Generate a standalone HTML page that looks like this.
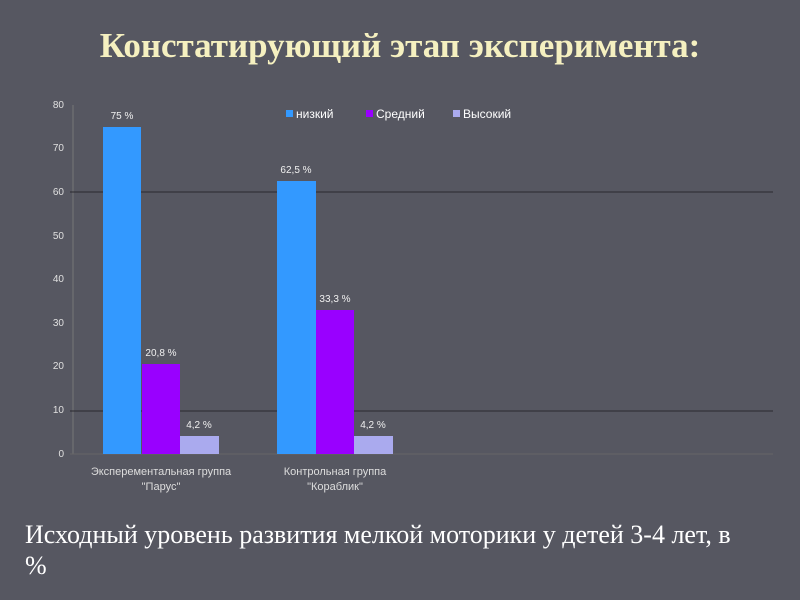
<!DOCTYPE html>
<html><head><meta charset="utf-8"><style>
body{margin:0;width:800px;height:600px;background:#565761;overflow:hidden;position:relative;font-family:"Liberation Sans",sans-serif}
.t{position:absolute;left:0;width:800px;top:26px;text-align:center;font:bold 35px "Liberation Serif",serif;color:#f5f0c0;white-space:nowrap}
.b{position:absolute;left:25px;top:519px;width:770px;font:26px "Liberation Serif",serif;color:#fff;line-height:31px}
</style></head><body>
<div class="t">Констатирующий этап эксперимента:</div>
<svg width="800" height="600" style="position:absolute;left:0;top:0" font-family="Liberation Sans, sans-serif">
<g fill="#e0e0e0" font-size="10" text-anchor="end">
<text x="64" y="108">80</text><text x="64" y="151">70</text><text x="64" y="195">60</text><text x="64" y="239">50</text><text x="64" y="282">40</text><text x="64" y="326">30</text><text x="64" y="369">20</text><text x="64" y="413">10</text><text x="64" y="457">0</text>
</g>
<line x1="73" y1="105" x2="73" y2="454" stroke="#777"/>
<line x1="70" y1="454" x2="773" y2="454" stroke="#666"/>
<line x1="70" y1="192" x2="773" y2="192" stroke="#2a2a30"/>
<line x1="70" y1="411" x2="773" y2="411" stroke="#2a2a30"/>
<rect x="103" y="127" width="38" height="327" fill="#3399ff"/>
<rect x="142" y="364" width="38" height="90" fill="#9900ff"/>
<rect x="180" y="436" width="39" height="18" fill="#aaaaee"/>
<rect x="277" y="181" width="39" height="273" fill="#3399ff"/>
<rect x="316" y="310" width="38" height="144" fill="#9900ff"/>
<rect x="354" y="436" width="39" height="18" fill="#aaaaee"/>
<g fill="#f0f0f0" font-size="10" text-anchor="middle">
<text x="122" y="119">75 %</text><text x="161" y="356">20,8 %</text><text x="199" y="428">4,2 %</text>
<text x="296" y="173">62,5 %</text><text x="335" y="302">33,3 %</text><text x="373" y="428">4,2 %</text>
<text x="161" y="475" font-size="11" fill="#dddddd">Эксперементальная группа</text><text x="161" y="490" font-size="11" fill="#dddddd">"Парус"</text>
<text x="335" y="475" font-size="11" fill="#dddddd">Контрольная группа</text><text x="335" y="490" font-size="11" fill="#dddddd">"Кораблик"</text>
</g>
<g font-size="12" fill="#fff">
<rect x="286" y="110" width="7" height="7" fill="#3399ff"/><text x="296" y="118">низкий</text>
<rect x="366" y="110" width="7" height="7" fill="#9900ff"/><text x="376" y="118">Средний</text>
<rect x="453" y="110" width="7" height="7" fill="#aaaaee"/><text x="463" y="118">Высокий</text>
</g>
</svg>
<div class="b">Исходный уровень развития мелкой моторики у детей 3-4 лет, в<br>%</div>
</body></html>
